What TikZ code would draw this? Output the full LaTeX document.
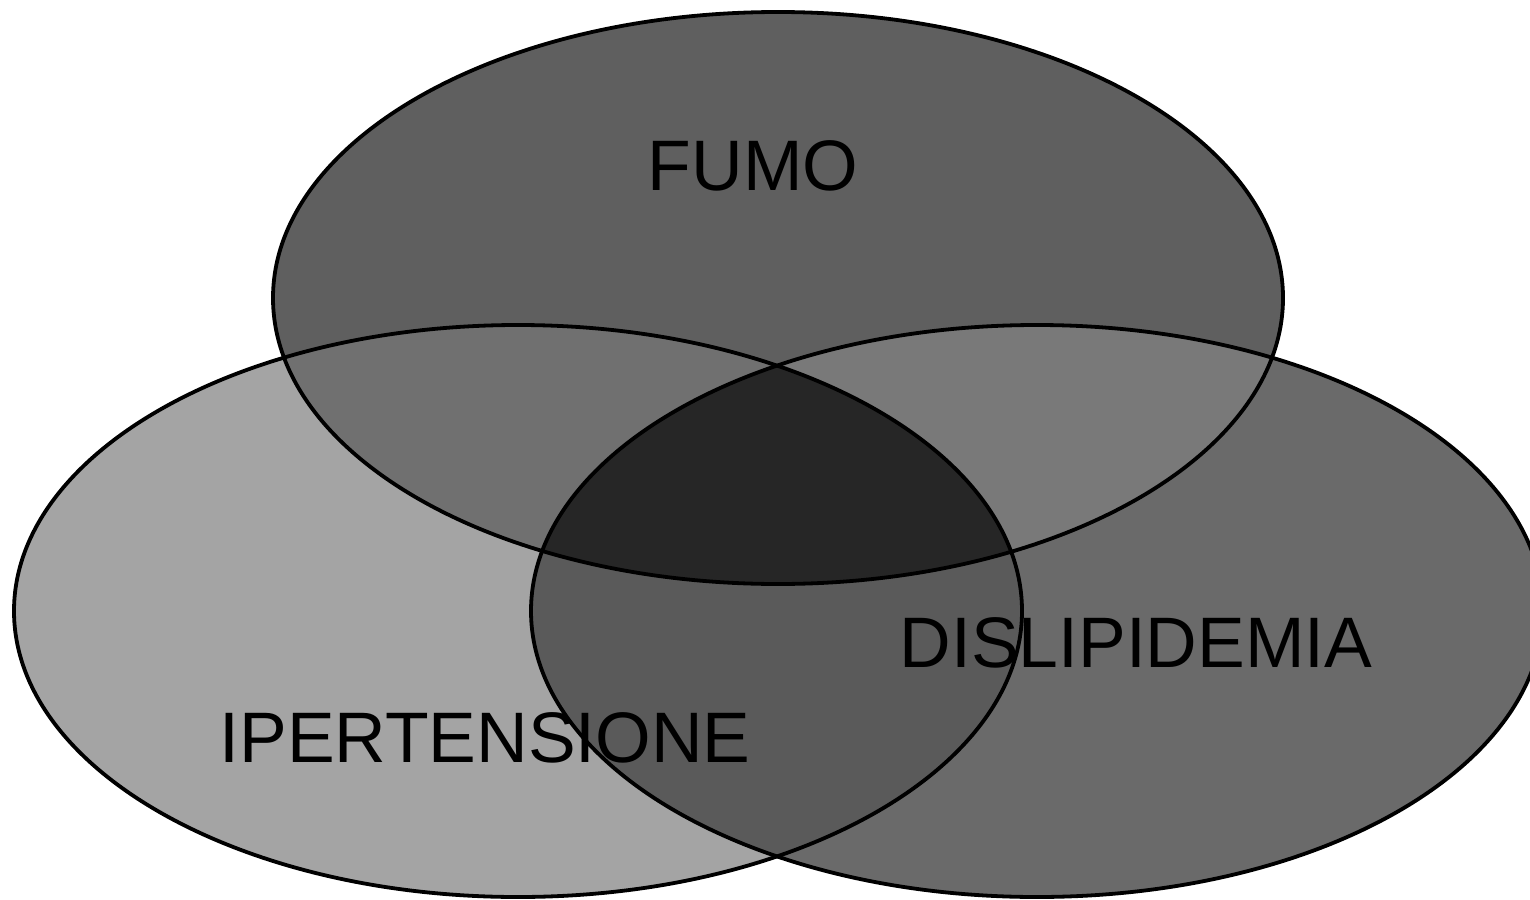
\documentclass[tikz,border=0pt]{standalone}
\usepackage{fontspec}
\setmainfont{Liberation Sans}
\definecolor{cTop}{gray}{0.373}
\definecolor{cLeft}{gray}{0.645}
\definecolor{cRight}{gray}{0.417}
\definecolor{cTL}{gray}{0.44}
\definecolor{cTR}{gray}{0.475}
\definecolor{cLR}{gray}{0.353}
\definecolor{cAll}{gray}{0.15}
\tikzset{
  outline/.style={draw=black, line width=3.8pt},
  lbl/.style={anchor=base, inner sep=0pt, font=\fontsize{71.5}{80}\selectfont}
}
\begin{document}
\begin{tikzpicture}[x=1pt,y=-1pt]
\useasboundingbox (0,0) rectangle (1530,899);
\def\topE{(778,298) ellipse [x radius=505, y radius=286]}
\def\leftE{(518,611) ellipse [x radius=504, y radius=286]}
\def\rightE{(1037,611) ellipse [x radius=506, y radius=286]}
% single regions
\fill[cLeft] \leftE;
\fill[cRight] \rightE;
\fill[cTop] \topE;
% pairwise
\begin{scope}
  \clip \leftE;
  \fill[cTL] \topE;
  \fill[cLR] \rightE;
\end{scope}
\begin{scope}
  \clip \rightE;
  \fill[cTR] \topE;
\end{scope}
\begin{scope}
  \clip \leftE;
  \clip \rightE;
  \fill[cAll] \topE;
\end{scope}
% outlines
\draw[outline] \leftE;
\draw[outline] \rightE;
\draw[outline] \topE;
% labels
\node[lbl] (fumo) at (753,190) {FUMO};
\node[lbl] (iper) at (485,762) {IPERTENSIONE};
\node[lbl] (disl) at (1136,667) {DISLIPIDEMIA};
\end{tikzpicture}
\end{document}
